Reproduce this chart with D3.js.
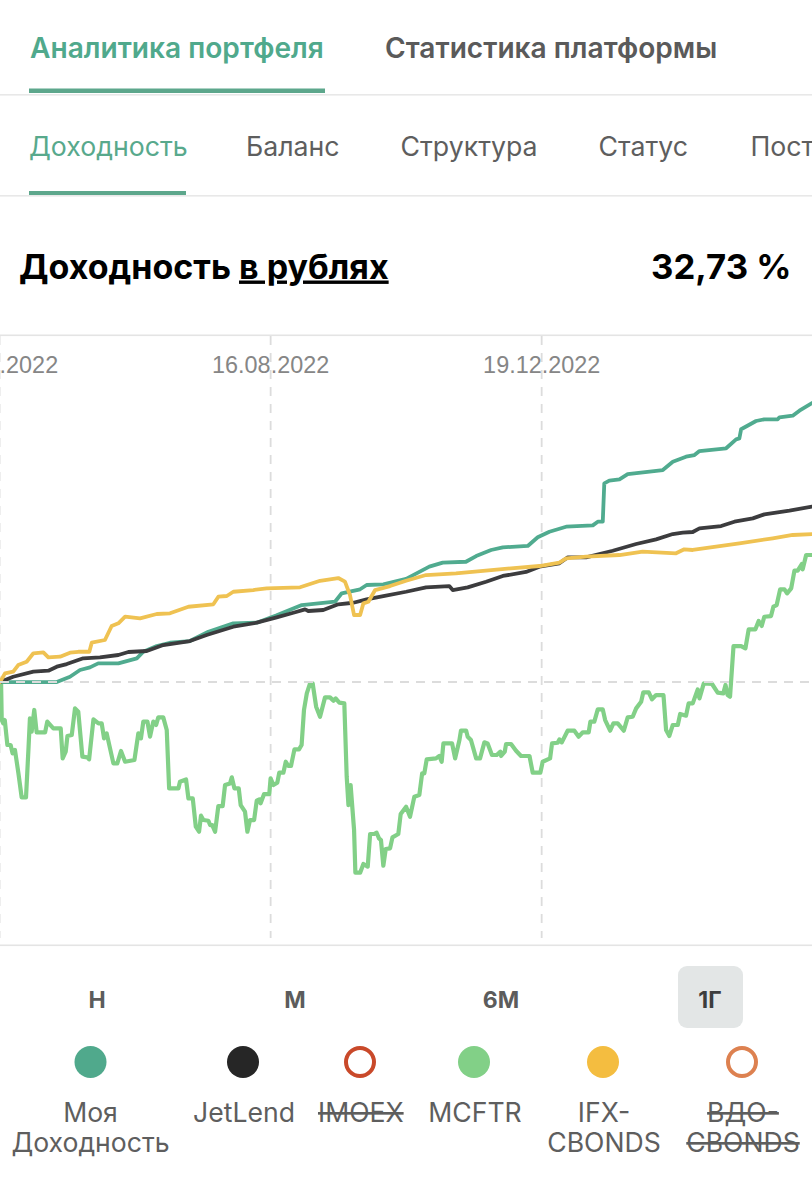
<!DOCTYPE html>
<html lang="ru"><head><meta charset="utf-8">
<script src="https://cdn.jsdelivr.net/npm/d3@7"></script>
<style>
html,body{margin:0;padding:0;background:#fff;overflow:hidden}
svg{display:block}
.ui{font-family:Inter,"Noto Sans",sans-serif}
.hl{font-family:"Liberation Sans",Arial,sans-serif}
</style></head><body><div id="chart"></div>
<script>
// Days since the first date on the axis, and return in %
const myDays=[0,26.2,32.3,36.9,41.5,45.3,54.6,63.1,66.1,72.3,78.4,87.6,96.1,107.6,118.4,127.6,139.2,154.5,157.6,166.1,169.1,176.8,187.3,198.0,204.2,214.9,219.6,226.5,231.9,243.4,248.0,253.4,261.1,273.4,275.7,278.0,278.7,281.0,285.7,289.5,305.7,310.3,316.4,320.3,322.6,334.9,339.5,341.0,341.8,348.7,352.5,358.7,359.5,365.6,368.7,374.5];
const myValues=[0,0,0.62,1.41,1.72,2.19,2.19,2.78,3.55,4.22,4.61,4.81,5.90,6.89,6.96,7.82,9.03,9.42,10.41,10.88,11.38,11.46,12.1,13.53,14.0,14.11,14.78,15.49,15.80,15.96,16.98,17.63,18.22,18.38,18.81,18.81,23.31,23.62,23.78,24.40,24.87,25.84,26.43,26.63,27.10,27.42,28.47,28.59,29.65,30.62,30.82,30.82,31.05,31.24,31.83,32.73];
const jetDays=[0,6.1,15.4,22.3,26.2,30.8,38.4,46.1,54.6,59.2,67.7,75.3,87.6,95.3,107.6,118.4,127.6,135.3,140.7,142.2,149.1,156.0,163.0,169.1,176.8,187.3,196.5,207.2,208.8,215.7,224.2,231.9,242.6,248.8,258.0,261.9,270.3,282.6,293.4,302.6,310.3,314.9,319.5,322.6,332.6,338.7,347.2,352.5,364.1,374.5];
const jetValues=[0,0.62,1.21,1.33,1.80,2.11,2.78,2.90,3.17,3.52,3.64,4.34,4.81,5.51,6.49,6.96,7.59,8.13,8.53,8.33,8.45,9.12,9.30,9.70,10.09,10.59,11.11,11.26,10.79,11.11,11.77,12.44,12.91,13.53,13.93,14.63,14.63,15.40,16.19,16.74,17.36,17.52,17.60,18.03,18.30,18.81,19.20,19.67,20.10,20.57];
const ifxDays=[0,2.3,6.1,8.4,12.3,15.4,20.0,22.3,27.7,32.3,36.1,41.2,42.3,48.4,51.5,54.6,57.7,64.6,72.3,78.4,86.9,98.4,100.7,104.6,107.6,116.8,123.0,138.4,147.6,156.0,159.1,161.4,163.3,166.1,167.6,169.9,173.0,179.9,187.3,196.5,210.3,230.3,248.8,258.0,261.1,270.3,285.7,296.4,311.8,315.6,319.5,341.0,356.4,365.6,374.5];
const ifxValues=[0,1.02,1.21,1.99,2.38,3.37,3.48,2.90,2.97,3.44,3.55,3.55,4.61,4.93,6.57,6.89,7.66,7.47,7.98,8.06,8.83,9.12,10.01,10.09,10.59,10.79,10.99,11.11,11.88,12.20,11.77,10.21,7.86,7.86,9.23,9.42,10.79,11.26,11.88,12.55,12.75,13.22,13.61,14.0,14.51,14.70,14.90,15.29,15.10,15.57,15.49,16.27,16.86,17.25,17.36];
const mcftrDays=[0,0.5,0.8,1.5,2.2,3.4,4.9,5.8,6.9,8.5,10.0,12.0,13.1,13.8,14.6,15.8,16.9,20.8,21.8,24.6,28.0,28.9,30.3,31.1,33.1,34.6,36.1,38.0,40.3,41.1,43.1,45.4,46.9,48.0,49.2,52.3,54.1,55.8,57.7,62.0,63.8,65.0,66.1,68.0,69.2,70.7,72.0,73.0,75.3,76.9,78.0,82.3,83.0,85.8,86.9,88.9,90.3,91.8,92.7,93.8,96.1,96.9,97.9,99.2,100.7,102.7,103.8,106.1,106.9,108.1,110.1,111.0,113.0,114.1,115.3,117.2,118.4,119.6,120.2,121.8,124.2,124.8,126.1,127.9,128.8,130.7,131.8,133.0,134.2,135.8,137.9,139.1,140.2,141.5,143.0,144.2,145.8,147.6,149.9,152.2,153.8,154.8,156.5,158.8,159.9,160.7,161.7,163.3,163.9,166.1,167.6,169.6,170.7,172.5,173.7,174.8,175.7,176.8,177.9,179.9,181.0,183.7,184.8,187.3,189.1,191.1,193.4,194.7,195.7,196.8,201.1,202.6,203.7,204.5,208.5,209.9,211.9,212.6,215.0,215.7,217.2,219.6,221.4,223.4,224.9,226.9,229.1,230.8,231.1,232.8,233.4,235.7,238.0,240.3,244.2,245.7,249.2,250.3,253.7,254.6,257.2,258.0,259.1,261.8,264.9,266.9,268.8,271.5,272.3,274.1,275.7,278.0,279.1,281.4,282.9,284.9,287.7,289.5,291.8,293.4,295.7,296.7,299.2,300.7,302.6,306.0,307.2,308.7,310.3,312.6,313.7,316.4,317.6,319.5,321.8,322.6,324.6,328.4,331.0,333.6,334.6,335.6,336.7,338.3,341.8,343.8,345.3,348.4,349.9,351.3,352.5,355.6,356.7,358.2,359.8,361.8,363.0,364.9,366.4,367.9,369.8,370.2,371.8,374.5];
const mcftrValues=[0,-0.16,-4.46,-4.85,-4.46,-7.39,-7.39,-8.37,-7.98,-10.71,-13.53,-13.53,-7.98,-4.26,-5.83,-3.28,-5.90,-5.90,-4.65,-5.44,-5.44,-8.96,-8.17,-6.34,-6.22,-3.09,-3.48,-8.76,-8.84,-9.07,-4.38,-4.85,-4.85,-6.61,-6.02,-9.54,-9.54,-8.09,-9.35,-9.15,-6.02,-6.61,-4.65,-4.65,-6.41,-4.65,-5.04,-4.15,-4.15,-5.63,-12.47,-12.47,-11.69,-11.42,-13.65,-13.65,-16.97,-17.56,-15.68,-16.19,-16.27,-16.78,-16.78,-17.56,-14.55,-14.55,-12.08,-11.89,-11.18,-12.47,-12.47,-14.43,-15.21,-17.56,-16.19,-16.19,-13.92,-13.77,-14.23,-13.14,-13.14,-11.30,-12.08,-11.81,-10.64,-10.64,-9.35,-9.85,-9.85,-7.90,-7.90,-7.39,-3.28,-1.33,-0.16,-0.16,-2.89,-4.07,-1.80,-1.80,-2.19,-1.92,-2.42,-2.50,-11.11,-14.43,-12.08,-17.36,-22.37,-22.37,-21.35,-21.66,-17.83,-17.83,-17.68,-18.34,-18.54,-21.55,-19.59,-19.51,-18.22,-17.83,-15.49,-14.63,-15.80,-13.45,-13.26,-10.71,-10.71,-9.07,-8.96,-8.68,-9.35,-7.20,-7.20,-8.96,-6.80,-5.71,-5.71,-6.41,-6.80,-8.96,-8.96,-7.08,-7.20,-8.56,-8.56,-8.17,-8.68,-8.17,-7.27,-7.27,-8.06,-8.68,-8.68,-10.64,-10.64,-9.35,-8.96,-7.20,-7.12,-6.73,-7.08,-5.71,-5.71,-6.41,-5.90,-5.90,-4.65,-4.65,-3.21,-3.21,-4.46,-5.71,-4.85,-4.85,-5.71,-4.15,-4.07,-3.09,-2.31,-1.21,-1.21,-2.03,-1.53,-1.53,-5.63,-6.33,-5.04,-5.04,-3.75,-3.95,-2.50,-2.50,-0.86,-1.92,-0.16,-0.23,-1.25,-1.33,-0.35,-1.53,-1.72,4.22,4.22,3.95,6.18,6.18,7.16,6.57,7.66,7.74,8.84,9.03,10.87,10.87,10.40,10.99,13.06,13.06,13.84,13.22,14.90,14.90];

const startDate="13.04.2022";
const endDays=374.5;
const tickDates=["13.04.2022","16.08.2022","19.12.2022"];
const yMinPct=-30.85, yMaxPct=40.71;
const zeroTick=[0];
const mainTabs=["Аналитика портфеля","Статистика платформы"];
const subTabs=["Доходность","Баланс","Структура","Статус","Поступления"];
const titleLead="Доходность", titleUnit="в рублях", titleValue="32,73 %";
const periods=["Н","М","6М","1Г"];
const legendLabels=[["Моя","Доходность"],["JetLend"],["IMOEX"],["MCFTR"],["IFX-","CBONDS"],["ВДО-","CBONDS"]];
const legendOff=[false,false,true,false,false,true];

const W=812,H=1200;
const C={teal:"#50a98c",tealLine:"#50ab8f",ink:"#3c3c3e",dot:"#262626",green:"#82d087",yellow:"#efc252",yellowDot:"#f4bd40",grey:"#5e5e5e"};
const parse=d3.utcParse("%d.%m.%Y"), fmt=d3.utcFormat("%d.%m.%Y");
const t0=parse(startDate);
const toDate=d=>new Date(+t0+d*864e5);
const x=d3.scaleUtc().domain([t0,toDate(endDays)]).range([0,W]);
const y=d3.scaleLinear().domain([yMinPct,yMaxPct]).range([945,335]);
const line=d3.line().x(d=>x(toDate(d[0]))).y(d=>y(d[1])).curve(d3.curveLinear);
const zip=(a,b)=>a.map((d,i)=>[d,b[i]]);

const svg=d3.select("#chart").append("svg").attr("width",W).attr("height",H).attr("viewBox",`0 0 ${W} ${H}`);

// Tabs
const tabX1=[30,385];
svg.selectAll(".m").data(mainTabs).join("text").attr("class","ui").attr("x",(d,i)=>tabX1[i]).attr("y",58)
  .attr("font-size",28.1).attr("font-weight",600).attr("fill",(d,i)=>i?"#5a5a5a":C.teal).text(d=>d);
svg.append("rect").attr("x",0).attr("y",94).attr("width",W).attr("height",1.6).attr("fill","#e8e8e8");
svg.append("rect").attr("x",29).attr("y",88.5).attr("width",296).attr("height",4.5).attr("fill","#5da78c");
const tabX2=[29,246,400.5,598.5,750.5];
svg.selectAll(".s").data(subTabs).join("text").attr("class","ui").attr("x",(d,i)=>tabX2[i]).attr("y",156)
  .attr("font-size",26.7).attr("fill",(d,i)=>i?C.grey:"#58a98c").text(d=>d);
svg.append("rect").attr("x",0).attr("y",195).attr("width",W).attr("height",1.6).attr("fill","#e8e8e8");
svg.append("rect").attr("x",29).attr("y",191).attr("width",157).attr("height",4).attr("fill","#5da78c");

// Title row
const title=svg.append("text").attr("class","ui").attr("x",19).attr("y",278.5).attr("font-size",34).attr("font-weight",700).attr("fill","#000");
title.append("tspan").text(titleLead+" ");
title.append("tspan").attr("text-decoration","underline").text(titleUnit);
svg.append("text").attr("class","ui").attr("x",791.5).attr("y",278.5).attr("text-anchor","end").attr("font-size",34.7).attr("font-weight",700).attr("fill","#000").text(titleValue);

// Frame
svg.append("rect").attr("x",0).attr("y",334.5).attr("width",W).attr("height",1.6).attr("fill","#e4e4e4");
svg.append("rect").attr("x",0).attr("y",944.5).attr("width",W).attr("height",1.6).attr("fill","#e4e4e4");

// X axis with grid
const xAxis=d3.axisBottom(x).tickValues(tickDates.map(parse)).tickFormat(fmt).tickSize(602).tickPadding(0).offset(0);
const gx=svg.append("g").attr("transform","translate(-0.4,336)").call(xAxis);
gx.select(".domain").remove();
gx.selectAll(".tick line").attr("stroke","#dcdcdc").attr("stroke-width",1.8).attr("stroke-dasharray","9 8");
gx.selectAll(".tick text").attr("y",0).attr("dy",0).attr("transform","translate(0,37)")
  .attr("font-size",23.4).attr("fill","#868686").attr("font-family",'"Liberation Sans",Arial,sans-serif').attr("text-anchor","middle");

// Series
const series=[[zip(mcftrDays,mcftrValues),C.green,4.2],[zip(myDays,myValues),C.tealLine,3.8],[zip(jetDays,jetValues),C.ink,3.8],[zip(ifxDays,ifxValues),C.yellow,3.8]];
svg.selectAll(".ln").data(series).join("path").attr("fill","none").attr("stroke-linejoin","round").attr("stroke-linecap","round")
  .attr("stroke-width",d=>d[2]).attr("stroke",d=>d[1]).attr("d",d=>line(d[0]));

// Zero line (y axis grid)
const gy=svg.append("g").call(d3.axisLeft(y).tickValues(zeroTick).tickSize(-W).tickFormat("").offset(0));
gy.select(".domain").remove();
gy.selectAll(".tick line").attr("stroke","#dcdcdc").attr("stroke-width",1.8).attr("stroke-dasharray","9 7");

// Period buttons
const perX=[97,295,501,710];
svg.append("rect").attr("x",678).attr("y",966).attr("width",65).attr("height",62).attr("rx",9).attr("fill","#e3e6e6");
svg.selectAll(".p").data(periods).join("text").attr("class","ui").attr("x",(d,i)=>perX[i]).attr("y",1008)
  .attr("text-anchor","middle").attr("font-size",23).attr("font-weight",700).attr("fill",(d,i)=>i==3?"#3d3d3d":"#5c5c5c").text(d=>d);

// Legend
const legX=[90.5,243,360,474,603,742];
const legC=[C.teal,C.dot,"#c9492a",C.green,C.yellowDot,"#dd8150"];
const legShift=[0,1,0.8,1,1,1];
legendLabels.forEach((lines,i)=>{
  const cx=legX[i];
  const off=legendOff[i];
  svg.append("circle").attr("cx",cx).attr("cy",1062).attr("r",off?14:16).attr("fill",off?"#fff":legC[i]).attr("stroke",off?legC[i]:"none").attr("stroke-width",off?4:0);
  lines.forEach((s,j)=>{
    svg.append("text").attr("class","ui").attr("x",cx+legShift[i]).attr("y",1122+j*30).attr("text-anchor","middle")
      .attr("font-size",26.6).attr("fill",C.grey).attr("text-decoration",off?"line-through":null).text(s);
  });
});
</script></body></html>
